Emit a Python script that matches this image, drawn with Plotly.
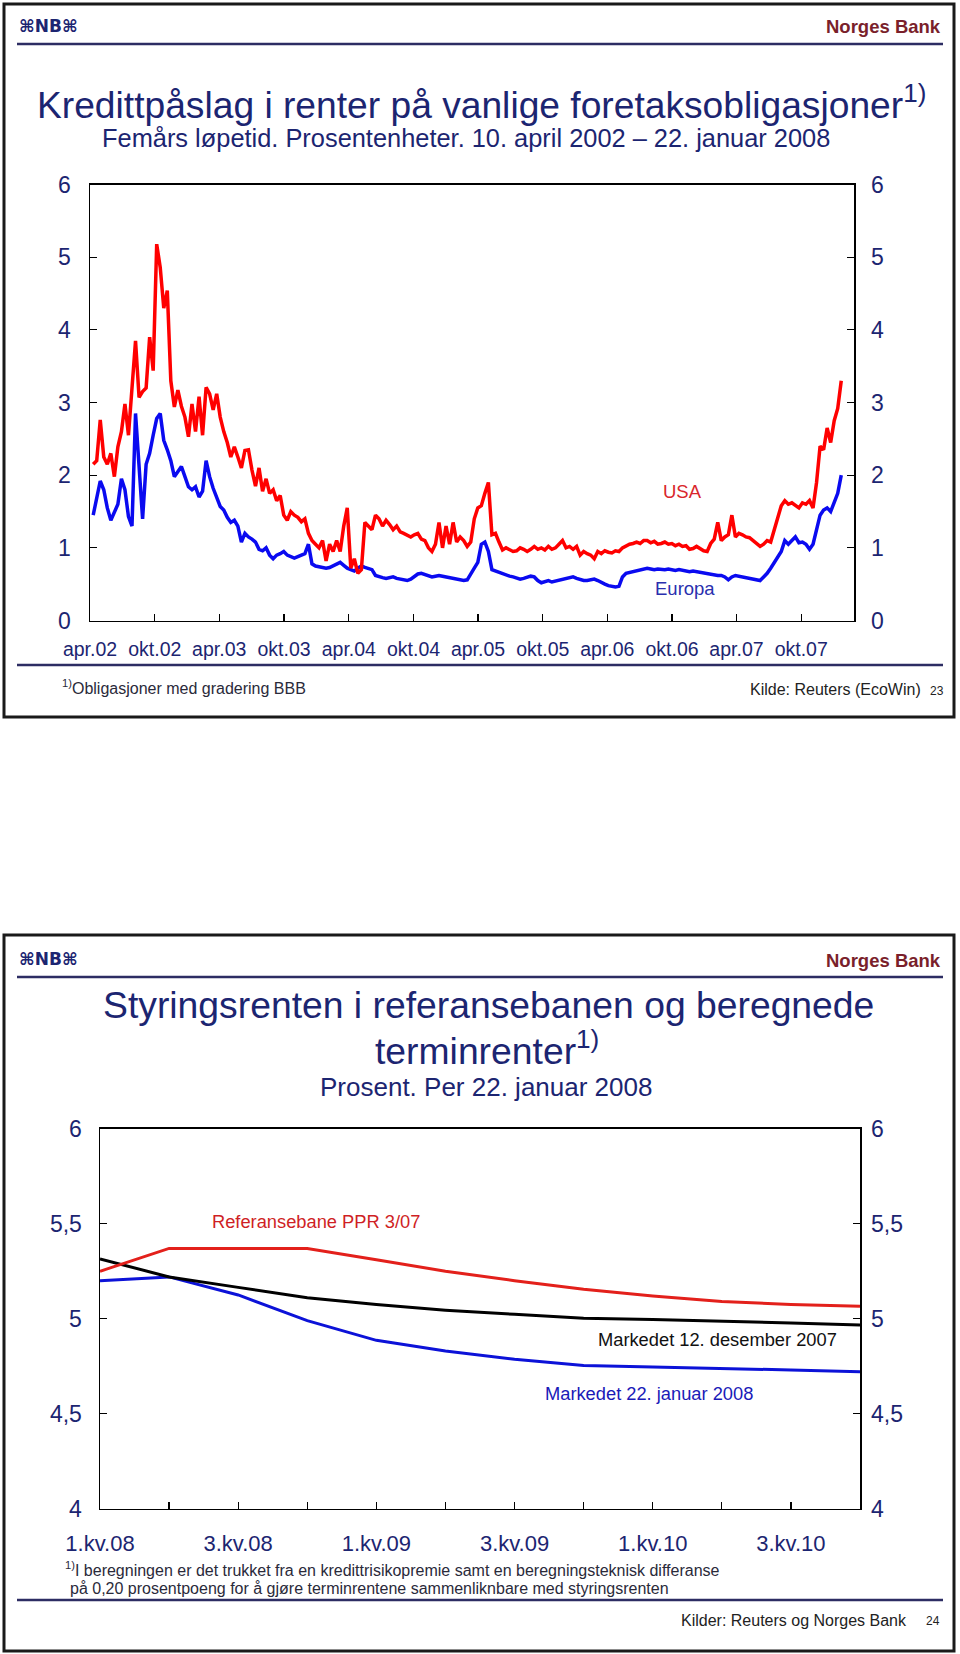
import pandas as pd
import plotly.graph_objects as go

# ---------------- data: chart 1 (credit spreads, percentage points) ----------------
start_date = "2002-04-10"
end_date = "2008-01-22"
n_obs = 213

usa = [
    2.15, 2.2, 2.76, 2.25, 2.15, 2.3, 1.98, 2.39, 2.6, 2.98,
    2.55, 3.2, 3.85, 3.07, 3.15, 3.2, 3.9, 3.44, 5.18, 4.86,
    4.3, 4.54, 3.3, 2.94, 3.17, 2.95, 2.8, 2.53, 2.98, 2.6,
    3.08, 2.55, 3.21, 3.12, 2.9, 3.12, 2.8, 2.6, 2.45, 2.25,
    2.39, 2.25, 2.1, 2.34, 2.35, 2.07, 1.85, 2.1, 1.78, 1.95,
    1.75, 1.8, 1.65, 1.72, 1.45, 1.38, 1.5, 1.45, 1.42, 1.36,
    1.4, 1.2, 1.1, 1.05, 1.0, 1.1, 0.82, 1.05, 0.95, 1.1,
    0.95, 1.3, 1.55, 0.72, 0.85, 0.65, 0.7, 1.35, 1.3, 1.25,
    1.45, 1.4, 1.3, 1.38, 1.32, 1.25, 1.3, 1.22, 1.2, 1.18,
    1.15, 1.18, 1.2, 1.12, 1.1, 1.0, 0.95, 1.05, 1.35, 1.0,
    1.3, 1.05, 1.35, 1.08, 1.15, 1.1, 1.02, 1.08, 1.4, 1.55,
    1.58, 1.75, 1.9, 1.18, 1.2, 1.08, 0.97, 1.0, 0.98, 0.95,
    0.96, 1.0, 0.98, 0.95, 0.98, 1.02, 0.98, 1.0, 0.97, 1.02,
    0.98, 1.0, 1.05, 1.1, 1.0, 1.02, 0.98, 1.02, 0.9, 0.95,
    0.92, 0.9, 0.85, 0.95, 0.92, 0.96, 0.94, 0.93, 0.96, 0.95,
    1.0, 1.03, 1.05, 1.06, 1.08, 1.06, 1.1, 1.1, 1.07, 1.09,
    1.05, 1.06, 1.08, 1.05, 1.06, 1.03, 1.05, 1.02, 1.03, 0.98,
    0.99, 1.02, 0.99, 0.96, 0.95, 1.06, 1.12, 1.35, 1.1, 1.15,
    1.18, 1.45, 1.15, 1.2, 1.18, 1.15, 1.14, 1.1, 1.05, 1.02,
    1.05, 1.1, 1.08, 1.25, 1.42, 1.58, 1.65, 1.6, 1.62, 1.58,
    1.55, 1.62, 1.6, 1.65, 1.55, 1.9, 2.4, 2.35, 2.65, 2.45,
    2.75, 2.92, 3.3,
]

europa = [
    1.45, 1.7, 1.92, 1.8, 1.55, 1.38, 1.5, 1.6, 1.95, 1.8,
    1.43, 1.3, 2.85, 2.1, 1.4, 2.15, 2.3, 2.55, 2.78, 2.85,
    2.48, 2.35, 2.2, 1.98, 2.05, 2.12, 1.98, 1.84, 1.8, 1.84,
    1.7, 1.78, 2.2, 1.98, 1.82, 1.7, 1.57, 1.52, 1.42, 1.35,
    1.38, 1.3, 1.08, 1.2, 1.15, 1.12, 1.08, 0.98, 0.96, 1.0,
    0.9, 0.85, 0.9, 0.92, 0.95, 0.9, 0.88, 0.86, 0.88, 0.9,
    0.92, 1.05, 0.78, 0.75, 0.74, 0.73, 0.72, 0.73, 0.75, 0.77,
    0.8, 0.76, 0.72, 0.7, 0.68, 0.72, 0.75, 0.73, 0.72, 0.7,
    0.62, 0.6, 0.59, 0.58, 0.59, 0.6, 0.58, 0.57, 0.56, 0.55,
    0.57, 0.6, 0.64, 0.65, 0.63, 0.62, 0.6, 0.61, 0.62, 0.61,
    0.6, 0.59, 0.58, 0.56, 0.55, 0.55, 0.56, 0.63, 0.72, 0.8,
    1.05, 1.08, 0.95, 0.7, 0.68, 0.66, 0.64, 0.62, 0.61, 0.6,
    0.58, 0.57, 0.58, 0.6, 0.61, 0.6, 0.55, 0.52, 0.54, 0.55,
    0.53, 0.54, 0.55, 0.56, 0.57, 0.58, 0.6, 0.58, 0.56, 0.55,
    0.55, 0.56, 0.57, 0.55, 0.52, 0.5, 0.48, 0.47, 0.46, 0.47,
    0.6, 0.65, 0.66, 0.67, 0.68, 0.7, 0.71, 0.72, 0.71, 0.7,
    0.71, 0.7, 0.7, 0.71, 0.7, 0.69, 0.7, 0.69, 0.68, 0.67,
    0.68, 0.67, 0.67, 0.65, 0.64, 0.63, 0.63, 0.62, 0.62, 0.6,
    0.56, 0.6, 0.62, 0.61, 0.6, 0.6, 0.59, 0.58, 0.57, 0.55,
    0.6, 0.65, 0.72, 0.8, 0.88, 0.95, 1.1, 1.05, 1.1, 1.15,
    1.07, 1.08, 1.05, 0.98, 1.05, 1.25, 1.45, 1.52, 1.55, 1.5,
    1.62, 1.75, 2.0,
]

x1_tick_dates = ["2002-04-01", "2002-10-01", "2003-04-01", "2003-10-01", "2004-04-01",
                 "2004-10-01", "2005-04-01", "2005-10-01", "2006-04-01", "2006-10-01",
                 "2007-04-01", "2007-10-01"]
x1_tick_labels = ["apr.02", "okt.02", "apr.03", "okt.03", "apr.04", "okt.04",
                  "apr.05", "okt.05", "apr.06", "okt.06", "apr.07", "okt.07"]
y1_ticks = [0, 1, 2, 3, 4, 5, 6]

# ---------------- data: chart 2 (policy rate paths, percent) ----------------
quarters = ["1.kv.08", "2.kv.08", "3.kv.08", "4.kv.08", "1.kv.09", "2.kv.09",
            "3.kv.09", "4.kv.09", "1.kv.10", "2.kv.10", "3.kv.10", "4.kv.10"]
referansebane = [5.25, 5.37, 5.37, 5.37, 5.31, 5.25, 5.20, 5.155, 5.12, 5.09, 5.075, 5.065]
marked_des07 = [5.315, 5.22, 5.165, 5.11, 5.075, 5.045, 5.023, 5.002, 4.996, 4.988, 4.977, 4.967]
marked_jan08 = [5.20, 5.22, 5.125, 4.99, 4.886, 4.83, 4.786, 4.754, 4.746, 4.739, 4.73, 4.72]
y2_ticks = [4, 4.5, 5, 5.5, 6]
y2_labels = ["4", "4,5", "5", "5,5", "6"]

# ---------------- figure ----------------
W, H = 960, 1654
FONT = "Liberation Sans, Arial, Helvetica, sans-serif"
NAVY = "#1c2571"


def px(x):
    return x / W


def py(y):
    return 1 - y / H


dates = pd.date_range(start_date, end_date, periods=n_obs)
q_pos = list(range(len(quarters)))          # position of each quarter on the axis
q_label_pos = q_pos[::2]
q_labels = quarters[::2]

fig = go.Figure()
fig.add_trace(go.Scatter(x=dates, y=europa, mode="lines", line=dict(color="#0a0af0", width=3.5),
                         xaxis="x", yaxis="y", showlegend=False, hoverinfo="skip"))
fig.add_trace(go.Scatter(x=dates, y=usa, mode="lines", line=dict(color="#ff0000", width=3.5),
                         xaxis="x", yaxis="y", showlegend=False, hoverinfo="skip"))
fig.add_trace(go.Scatter(x=[dates[0]], y=[usa[0]], mode="markers", marker=dict(opacity=0),
                         xaxis="x", yaxis="y3", showlegend=False, hoverinfo="skip"))

fig.add_trace(go.Scatter(x=q_pos, y=marked_jan08, mode="lines", line=dict(color="#0c12d8", width=3),
                         xaxis="x2", yaxis="y2", showlegend=False, hoverinfo="skip"))
fig.add_trace(go.Scatter(x=q_pos, y=marked_des07, mode="lines", line=dict(color="#000000", width=3),
                         xaxis="x2", yaxis="y2", showlegend=False, hoverinfo="skip"))
fig.add_trace(go.Scatter(x=q_pos, y=referansebane, mode="lines", line=dict(color="#e3201b", width=3),
                         xaxis="x2", yaxis="y2", showlegend=False, hoverinfo="skip"))
fig.add_trace(go.Scatter(x=[q_pos[0]], y=[referansebane[0]], mode="markers", marker=dict(opacity=0),
                         xaxis="x2", yaxis="y4", showlegend=False, hoverinfo="skip"))

common_axis = dict(showgrid=False, zeroline=False, showline=True, linecolor="#000000",
                   linewidth=1.5, tickcolor="#000000", tickwidth=1.2, fixedrange=True,
                   automargin=False)

fig.update_layout(
    template="none",
    width=W, height=H, margin=dict(l=0, r=0, t=0, b=0, pad=0, autoexpand=False),
    paper_bgcolor="white", plot_bgcolor="white",
    font=dict(family=FONT, color=NAVY),
    xaxis=dict(common_axis, type="date", domain=[px(90), px(854)], anchor="y",
               range=["2002-04-01", "2008-02-27"], mirror=True, ticks="inside", ticklen=7,
               tickmode="array", tickvals=x1_tick_dates, ticktext=x1_tick_labels,
               tickfont=dict(size=19.5, color=NAVY), ticklabelstandoff=11),
    yaxis=dict(common_axis, domain=[py(620.5), py(184.6)], anchor="x", range=[0, 6],
               mirror="ticks", ticks="inside", ticklen=7, tickmode="array", tickvals=y1_ticks,
               tickfont=dict(size=23, color=NAVY), ticklabelstandoff=13),
    yaxis3=dict(showgrid=False, zeroline=False, showline=False, overlaying="y", side="right",
                anchor="x", range=[0, 6], ticks="", tickmode="array", tickvals=y1_ticks,
                tickfont=dict(size=23, color=NAVY), ticklabelstandoff=16, fixedrange=True,
                automargin=False),
    xaxis2=dict(common_axis, type="linear", domain=[px(100), px(860)], anchor="y2",
                range=[q_pos[0], q_pos[-1]], mirror=True, ticks="inside", ticklen=7,
                tickmode="array", tickvals=q_label_pos, ticktext=q_labels,
                minor=dict(ticks="inside", ticklen=7, tickcolor="#000000", tickwidth=1.2,
                           tickmode="linear", tick0=0, dtick=1, showgrid=False),
                tickfont=dict(size=22, color=NAVY), ticklabelstandoff=14),
    yaxis2=dict(common_axis, domain=[py(1508.6), py(1128.8)], anchor="x2", range=[4, 6],
                mirror="ticks", ticks="inside", ticklen=7, tickmode="array",
                tickvals=y2_ticks, ticktext=y2_labels,
                tickfont=dict(size=23, color=NAVY), ticklabelstandoff=12),
    yaxis4=dict(showgrid=False, zeroline=False, showline=False, overlaying="y2", side="right",
                anchor="x2", range=[4, 6], ticks="", tickmode="array", tickvals=y2_ticks,
                ticktext=y2_labels, tickfont=dict(size=23, color=NAVY), ticklabelstandoff=10,
                fixedrange=True, automargin=False),
)

shapes = []
# panel borders
for (y0, y1) in [(4, 717), (935, 1651)]:
    shapes.append(dict(type="rect", xref="paper", yref="paper", x0=px(4), x1=px(954),
                       y0=py(y1), y1=py(y0), line=dict(color="#1a1a1a", width=3)))
# header and footer separator lines
for yy in [44, 665, 977, 1600]:
    shapes.append(dict(type="line", xref="paper", yref="paper", x0=px(17), x1=px(943),
                       y0=py(yy), y1=py(yy), line=dict(color="#2d2d63", width=2.5)))
fig.update_layout(shapes=shapes)

ann = []


def text(x, y, s, size, color=NAVY, xanchor="center", family=FONT):
    ann.append(dict(x=px(x), y=py(y), xref="paper", yref="paper", text=s, showarrow=False,
                    xanchor=xanchor, yanchor="middle", font=dict(size=size, color=color, family=family)))


for top in [0, 933]:
    text(17, 26 + top, "<b>⌘NB⌘</b>", 17, NAVY, "left", "DejaVu Sans, sans-serif")
    text(943, 27 + top, "<b>Norges Bank</b>", 18.5, "#7a1f2b", "right")

# panel 1
text(481, 102, "Kredittpåslag i renter på vanlige foretaksobligasjoner<sup>1)</sup>", 37.2)
text(466, 138, "Femårs løpetid. Prosentenheter. 10. april 2002 – 22. januar 2008", 25.4)
text(682, 491, "USA", 18.5, "#d9262c")
text(685, 588, "Europa", 18.5, "#2a2fae")
text(60, 687, "<sup>1)</sup>Obligasjoner med gradering BBB", 16, "#2a2a3a", "left")
text(923, 690, "Kilde: Reuters (EcoWin)", 16, "#222222", "right")
text(928, 691, "23", 12, "#222222", "left")

# panel 2
text(488, 1005, "Styringsrenten i referansebanen og beregnede", 37.3)
text(487, 1048, "terminrenter<sup>1)</sup>", 37.3)
text(486, 1087, "Prosent. Per 22. januar 2008", 26)
text(316, 1221, "Referansebane PPR 3/07", 18.3, "#cf1f25")
text(717, 1339, "Markedet 12. desember 2007", 18.3, "#111111")
text(649, 1393, "Markedet 22. januar 2008", 18.3, "#1a1ab8")
text(63, 1569, "<sup>1)</sup>I beregningen er det trukket fra en kredittrisikopremie samt en beregningsteknisk differanse",
     16, "#2a2a3a", "left")
text(68, 1588, "på 0,20 prosentpoeng for å gjøre terminrentene sammenliknbare med styringsrenten",
     16, "#2a2a3a", "left")
text(909, 1620, "Kilder: Reuters og Norges Bank", 16, "#222222", "right")
text(924, 1621, "24", 12, "#222222", "left")

fig.update_layout(annotations=ann)
fig.write_html("out.html", config={"displayModeBar": False, "staticPlot": True},
               post_script="document.body.style.margin='0px';document.body.style.padding='0px';")
